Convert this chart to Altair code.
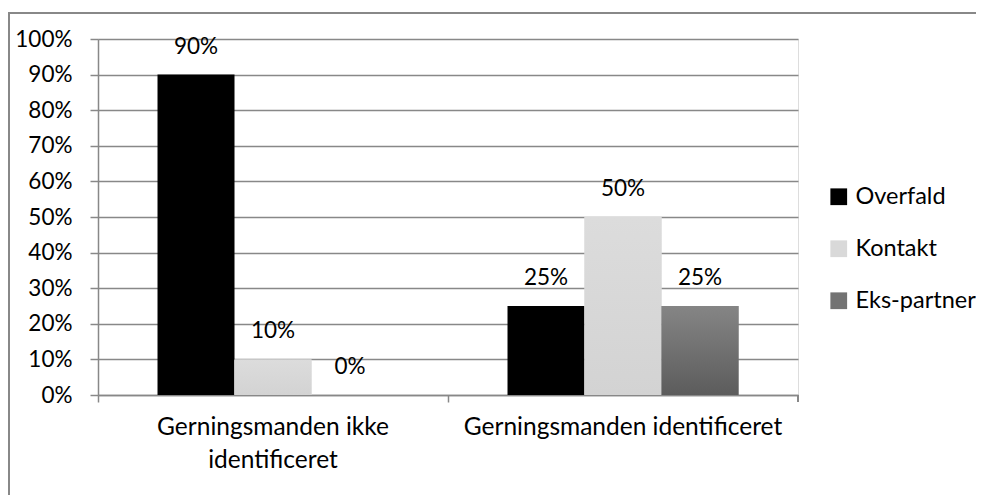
import altair as alt
import pandas as pd

categories = ["Gerningsmanden ikke identificeret", "Gerningsmanden identificeret"]
series = ["Overfald", "Kontakt", "Eks-partner"]
values_ikke = [0.90, 0.10, 0.00]
values_ident = [0.25, 0.50, 0.25]
colors = ["#000000", "#d9d9d9", "#737373"]
y_ticks = [0, 0.1, 0.2, 0.3, 0.4, 0.5, 0.6, 0.7, 0.8, 0.9, 1.0]

rows = []
for c, vals in zip(categories, [values_ikke, values_ident]):
    for s, v in zip(series, vals):
        rows.append({"category": c, "series": s, "value": v})
df = pd.DataFrame(rows)

FONT = "Lato"
FS = 22.5
FSX = 24.5
FSL = 23.5
W, H = 700, 356

x_enc = alt.X(
    "category:N",
    sort=categories,
    scale=alt.Scale(paddingInner=0, paddingOuter=0),
    axis=alt.Axis(
        title=None,
        bandPosition=0,
        labelAngle=0,
        labelFont=FONT,
        labelFontSize=FSX,
        labelColor="#000000",
        labelPadding=13,
        labelLineHeight=33,
        labelLimit=0,
        labelExpr="datum.label == 'Gerningsmanden ikke identificeret' ? ['Gerningsmanden ikke', 'identificeret'] : datum.label",
        tickSize=7,
        tickColor="#888888",
        tickWidth=1.5,
        domainColor="#888888",
        domainWidth=1.5,
        grid=False,
    ),
)
xoff_enc = alt.XOffset(
    "series:N", sort=series, scale=alt.Scale(paddingInner=0, paddingOuter=0.773)
)
y_enc = alt.Y(
    "value:Q",
    scale=alt.Scale(domain=[0, 1], nice=False),
    axis=alt.Axis(
        title=None,
        values=y_ticks,
        format=".0%",
        labelFont=FONT,
        labelFontSize=FS,
        labelColor="#000000",
        labelPadding=18,
        tickSize=8,
        tickColor="#888888",
        tickWidth=1.5,
        domainColor="#888888",
        domainWidth=1.5,
        grid=True,
        gridColor="#888888",
        gridWidth=1.5,
    ),
)

base = alt.Chart(df).encode(x=x_enc, xOffset=xoff_enc, y=y_enc)

bars = base.mark_bar(size=77).encode(
    color=alt.Color(
        "series:N",
        sort=series,
        scale=alt.Scale(domain=series, range=colors),
        legend=alt.Legend(
            title=None,
            orient="none",
            legendX=729,
            legendY=146,
            symbolType="square",
            symbolSize=280,
            symbolStrokeWidth=0,
            labelFont=FONT,
            labelFontSize=FSL,
            labelColor="#000000",
            rowPadding=27,
            labelOffset=5,
        ),
    )
)

grad_eks = base.mark_bar(size=77).encode(
    color=alt.value(
        {
            "gradient": "linear",
            "x1": 0, "y1": 0, "x2": 0, "y2": 1,
            "stops": [
                {"offset": 0, "color": "#858585"},
                {"offset": 1, "color": "#5c5c5c"},
            ],
        }
    )
).transform_filter(alt.datum.series == "Eks-partner")

grad_kon = base.mark_bar(size=77).encode(
    color=alt.value(
        {
            "gradient": "linear",
            "x1": 0, "y1": 0, "x2": 0, "y2": 1,
            "stops": [
                {"offset": 0, "color": "#dcdcdc"},
                {"offset": 1, "color": "#d3d3d3"},
            ],
        }
    )
).transform_filter(alt.datum.series == "Kontakt")

labels = base.mark_text(
    font=FONT, fontSize=FS, color="#000000", baseline="bottom", dy=-16
).encode(text=alt.Text("value:Q", format=".0%"))

end_tick = alt.Chart(df).mark_rule(color="#888888", strokeWidth=1.5).encode(
    x=alt.value(W), y=alt.value(H), y2=alt.value(H + 7)
)

border = alt.Chart(df).mark_rect(
    fill=None, stroke="#888888", strokeWidth=1.5
).encode(
    x=alt.value(-89), x2=alt.value(1000), y=alt.value(-26), y2=alt.value(600)
)

chart = (
    alt.layer(border, bars, grad_kon, grad_eks, labels, end_tick)
    .properties(
        width=W,
        height=H,
        autosize=alt.AutoSizeParams(type="none"),
        padding={"left": 90, "top": 31, "right": 178, "bottom": 100},
    )
    .configure_view(stroke=None)
    .configure(background="#ffffff")
)

chart.save("out.html", embed_options={"renderer": "svg", "actions": False})
